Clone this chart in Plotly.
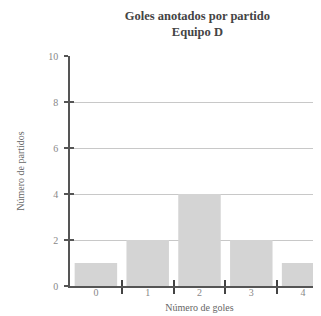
import plotly.graph_objects as go

goles = [0, 1, 2, 3, 4]
partidos = [1, 2, 4, 2, 1]
y_ticks = [0, 2, 4, 6, 8, 10]
boundaries = [0.5, 1.5, 2.5, 3.5]

fig = go.Figure()
fig.add_trace(go.Bar(x=goles, y=partidos, width=0.82,
                     marker=dict(color="#d4d4d4", line=dict(width=0)),
                     showlegend=False))
fig.add_trace(go.Scatter(x=[None], y=[None], xaxis="x2", yaxis="y2", showlegend=False))

serif = "Liberation Serif, DejaVu Serif, serif"
fig.update_layout(
    width=321, height=316,
    margin=dict(l=62, r=0, t=48, b=38),
    plot_bgcolor="white", paper_bgcolor="white",
    title=dict(text="<b>Goles anotados por partido<br>Equipo D</b>",
               font=dict(family=serif, size=12.5, color="#444"),
               x=0.59, xref="container", xanchor="center",
               y=0.962, yref="container", yanchor="top"),
    xaxis=dict(range=[-0.5, 4.5], tickvals=goles, ticktext=[str(g) for g in goles],
               ticks="", showgrid=False, zeroline=False, ticklabelstandoff=-4,
               minor=dict(tickvals=boundaries, ticks="outside", ticklen=6, tickcolor="#444",
                          tickwidth=1.5, showgrid=False),
               showline=True, linecolor="#555", linewidth=1.5,
               tickfont=dict(family=serif, size=10, color="#888"),
               title=dict(text="Número de goles", font=dict(family=serif, size=10, color="#666"), standoff=7)),
    yaxis=dict(range=[0, 10], tickvals=y_ticks, ticks="outside", ticklen=4, tickcolor="#555", tickwidth=1.5,
               showgrid=True, gridcolor="#c8c8c8", gridwidth=1.2, zeroline=False, ticklabelstandoff=4,
               showline=True, linecolor="#555", linewidth=1.5,
               tickfont=dict(family=serif, size=10, color="#888"),
               title=dict(text="Número de partidos", font=dict(family=serif, size=10, color="#666"), standoff=22)),
    xaxis2=dict(range=[-0.5, 4.5], overlaying="x", anchor="y2", side="bottom",
                tickvals=boundaries, ticks="inside", ticklen=6, tickcolor="#444", tickwidth=1.5,
                showticklabels=False, showgrid=False, zeroline=False, showline=False),
    yaxis2=dict(range=[0, 10], overlaying="y", anchor="x2", side="left",
                tickvals=y_ticks, ticks="inside", ticklen=4, tickcolor="#555", tickwidth=1.5,
                showticklabels=False, showgrid=False, zeroline=False, showline=False),
)

fig.write_html("out.html")
